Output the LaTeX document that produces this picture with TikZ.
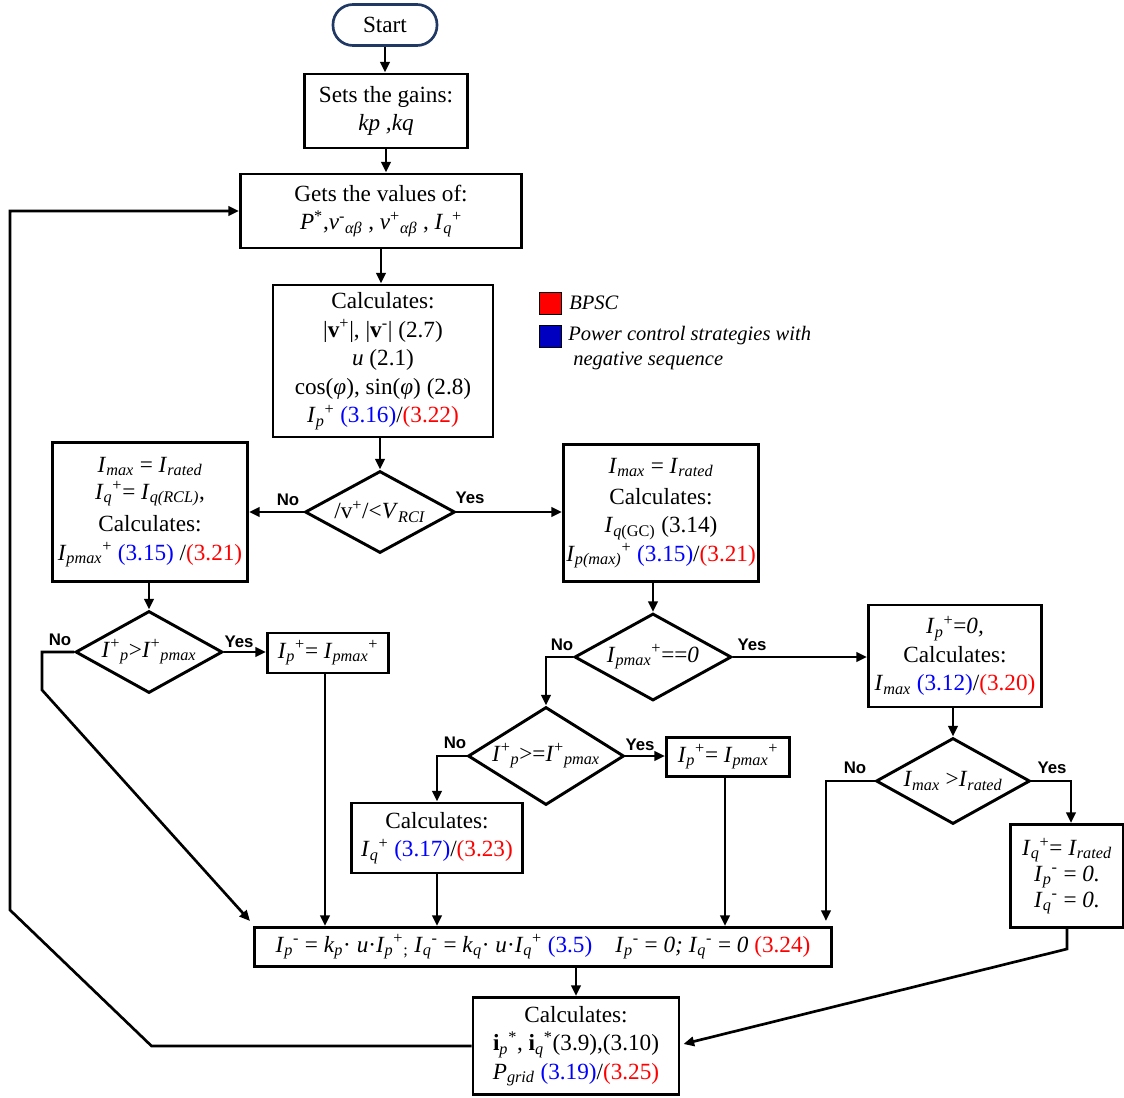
\documentclass[tikz,border=0pt]{standalone}
\usepackage{fontspec}
\setmainfont{Liberation Serif}
\newfontfamily\lsans{Liberation Sans}
\usetikzlibrary{shapes.geometric,arrows.meta,calc}
\definecolor{navy}{HTML}{1F3864}
\definecolor{eqblue}{HTML}{0000FF}
\definecolor{eqred}{HTML}{FF0000}
\definecolor{legblue}{HTML}{0000C0}
\newcommand\bl[1]{\textcolor{eqblue}{#1}}
\newcommand\rd[1]{\textcolor{eqred}{#1}}
\newcommand\isb[2]{\textit{#1}\textsubscript{\textit{#2}}}
\newcommand\sps[1]{\textsuperscript{#1}}
\tikzset{
  base/.style={font=\fontsize{17.4}{21.4}\selectfont, align=center, inner sep=0pt},
  box/.style 2 args={base, draw, line width=2.2pt, minimum width=#1*0.75pt, minimum height=#2*0.75pt},
  dia/.style n args={3}{base, draw, diamond, aspect=#3, line width=2.2pt, minimum width=#1*0.75pt, minimum height=#2*0.75pt},
  lbl/.style={font=\lsans\bfseries\fontsize{12.6}{14}\selectfont, inner sep=0pt},
  arr/.style={line width=2pt, -{Triangle[length=8pt,width=7pt]}},
  leg/.style={font=\fontsize{15.4}{18}\selectfont\itshape, inner sep=0pt, anchor=west}
}
\begin{document}
\begin{tikzpicture}[x=0.75pt,y=-0.75pt]
\useasboundingbox (0,0) rectangle (1124,1097);
% nodes
\node[base, draw=navy, line width=2pt, rounded corners=15pt, minimum width=104*0.75pt, minimum height=41*0.75pt] (start) at (385,25) {Start};
\node[box={163}{74}] (sets) at (386,111) {Sets the gains:\\\textit{kp ,kq}};
\node[box={281}{74}] (gets) at (381,211) {Gets the values of:\\\textit{P}\sps{*},\textit{v}\sps{-}\textsubscript{\textit{αβ}} , \textit{v}\sps{+}\textsubscript{\textit{αβ}} , \isb{I}{q}\sps{+}};
\node[box={220}{152}] (calc) at (383,361) {Calculates:\\|\textbf{v}\sps{+}|, |\textbf{v}\sps{-}| (2.7)\\\textit{u} (2.1)\\cos(\textit{φ}), sin(\textit{φ}) (2.8)\\\isb{I}{p}\sps{+} \bl{(3.16)}/\rd{(3.22)}};
% legend
\node[draw, line width=0.6pt, fill=eqred, minimum size=22*0.75pt, inner sep=0pt] (lr) at (550,303) {};
\node[leg] (lrt) at (569,303) {BPSC};
\node[draw, line width=0.6pt, fill=legblue, minimum size=22*0.75pt, inner sep=0pt] (lb) at (550,336) {};
\node[leg] (lbt1) at (568,336) {Power control strategies with};
\node[leg] (lbt2) at (573,361) {negative sequence};
% first decision
\node[dia={150}{82}{1.83}] (d1) at (380,512) {/v\sps{+}/<\isb{V}{RCI}};
\node[box={195}{139}] (l1) at (150,512) {\isb{I}{max} = \isb{I}{rated}\\[-1pt]\isb{I}{q}\sps{+}= \isb{I}{q(RCL)},\\[3pt]Calculates:\\\isb{I}{pmax}\sps{+} \bl{(3.15)} /\rd{(3.21)}};
\node[box={195}{137}] (r1) at (661,513) {\isb{I}{max} = \isb{I}{rated}\\[2pt]Calculates:\\\textit{I}\textsubscript{\textit{q}(GC)} (3.14)\\\isb{I}{p(max)}\sps{+} \bl{(3.15)}/\rd{(3.21)}};
% left branch
\node[dia={147}{82}{1.8}] (d2) at (149,652) {\textit{I}\sps{+}\textsubscript{\textit{p}}>\textit{I}\sps{+}\textsubscript{\textit{pmax}}};
\node[box={121}{40}] (lp) at (328,653) {\isb{I}{p}\sps{+}= \isb{I}{pmax}\sps{+}};
% middle branch
\node[dia={157}{87}{1.8}] (d3) at (653,657) {\isb{I}{pmax}\sps{+}==\textit{0}};
\node[box={173}{102}] (r2) at (955,656) {\isb{I}{p}\sps{+}=\textit{0,}\\Calculates:\\\isb{I}{max} \bl{(3.12)}/\rd{(3.20)}};
\node[dia={156}{98}{1.6}] (d4) at (546,756) {\textit{I}\sps{+}\textsubscript{\textit{p}}>=\textit{I}\sps{+}\textsubscript{\textit{pmax}}};
\node[box={123}{39}] (mp) at (728,757) {\isb{I}{p}\sps{+}= \isb{I}{pmax}\sps{+}};
\node[box={171}{70}] (m) at (437,838) {Calculates:\\\isb{I}{q}\sps{+} \bl{(3.17)}/\rd{(3.23)}};
\node[dia={154}{86}{1.8}] (d5) at (953,781) {\isb{I}{max} >\isb{I}{rated}};
\node[box={113}{103}] (rr) at (1067,876) {\isb{I}{q}\sps{+}= \isb{I}{rated}\\[-2pt]\isb{I}{p}\sps{-} = \textit{0.}\\[-2pt]\isb{I}{q}\sps{-} = \textit{0.}};
% bottom
\node[box={577}{39}] (b1) at (543,947) {\isb{I}{p}\sps{-} = \isb{k}{p}· \textit{u}·\isb{I}{p}\sps{+}\textsubscript{;} \isb{I}{q}\sps{-} = \isb{k}{q}· \textit{u}·\isb{I}{q}\sps{+} \bl{(3.5)}\quad \isb{I}{p}\sps{-} = \textit{0;} \isb{I}{q}\sps{-} = \textit{0} \rd{(3.24)}};
\node[box={206}{97}] (b2) at (576,1046) {Calculates:\\\textbf{i}\textsubscript{\textit{p}}\sps{*}, \textbf{i}\textsubscript{\textit{q}}\sps{*}(3.9),(3.10)\\\isb{P}{grid} \bl{(3.19)}/\rd{(3.25)}};
% labels
\node[lbl] (n1) at (288,500) {No};
\node[lbl] (y1) at (470,498) {Yes};
\node[lbl] (n2) at (60,640) {No};
\node[lbl] (y2) at (239,642) {Yes};
\node[lbl] (n3) at (562,645) {No};
\node[lbl] (y3) at (752,645) {Yes};
\node[lbl] (n4) at (455,743) {No};
\node[lbl] (y4) at (640,745) {Yes};
\node[lbl] (n5) at (855,768) {No};
\node[lbl] (y5) at (1052,768) {Yes};
% helper coordinates
\coordinate (lpo) at ($(lp.south)+(-3,0)$);
\coordinate (mpo) at ($(mp.south)+(-3,0)$);
\coordinate (b1a) at ($(b1.north west)+(-3,-5)$);
\coordinate (b1b) at ($(b1.north east)+(-7,-5)$);
\coordinate (rro) at ($(rr.north)+(4,0)$);
\coordinate (b2e) at ($(b2.east)+(3,-2)$);
% connectors
\draw[arr] (start.south) -- (start.south |- sets.north);
\draw[arr] (sets.south) -- (sets.south |- gets.north);
\draw[arr] (gets.south) -- (gets.south |- calc.north);
\draw[arr] (d1.north |- calc.south) -- (d1.north);
\draw[arr] (d1.west) -- (l1.east |- d1.west);
\draw[arr] (d1.east) -- (r1.west |- d1.east);
\draw[arr] (d2.north |- l1.south) -- (d2.north);
\draw[arr] (d2.east) -- (lp.west |- d2.east);
\draw[arr] (d2.west) -- ++(-32,0) -- ++(0,38) -- (b1a);
\draw[arr] (lpo) -- (lpo |- b1.north);
\draw[arr] (d3.north |- r1.south) -- (d3.north);
\draw[arr] (d3.east) -- (r2.west |- d3.east);
\draw[arr] (d3.west) -| (d4.north);
\draw[arr] (d4.east) -- (mp.west |- d4.east);
\draw[arr] (d4.west) -| (m.north);
\draw[arr] (m.south) -- (m.south |- b1.north);
\draw[arr] (mpo) -- (mpo |- b1.north);
\draw[arr] (d5.north |- r2.south) -- (d5.north);
\draw[arr] (d5.west) -| (b1b);
\draw[arr] (d5.east) -| (rro);
\draw[arr] (rr.south) -- ++(0,20) -- (b2e);
\draw[arr] (b2.north |- b1.south) -- (b2.north);
\draw[arr] (b2.west) -- ++(-320,0) -- (10,910) |- (gets.west);
\end{tikzpicture}
\end{document}
